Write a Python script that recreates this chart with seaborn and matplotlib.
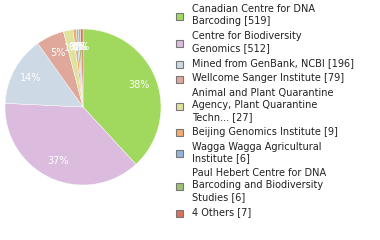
import math
import matplotlib
matplotlib.use("Agg")
import matplotlib.pyplot as plt
import seaborn as sns

sns.set_theme(style="white")
plt.rcParams['font.family'] = ['DejaVu Sans']

labels = [
    "Canadian Centre for DNA\nBarcoding [519]",
    "Centre for Biodiversity\nGenomics [512]",
    "Mined from GenBank, NCBI [196]",
    "Wellcome Sanger Institute [79]",
    "Animal and Plant Quarantine\nAgency, Plant Quarantine\nTechn... [27]",
    "Beijing Genomics Institute [9]",
    "Wagga Wagga Agricultural\nInstitute [6]",
    "Paul Hebert Centre for DNA\nBarcoding and Biodiversity\nStudies [6]",
    "4 Others [7]",
]
values = [519, 512, 196, 79, 27, 9, 6, 6, 7]
colors = ["#a0d95e", "#dcbcde", "#cdd9e4", "#e0a89a", "#dfe39e",
          "#f0aa6e", "#90b5dc", "#9cc272", "#d9715c"]

W, H = 380, 240
fig = plt.figure(figsize=(W / 100, H / 100), dpi=100)

cx, cy, R = 83, 107, 78
ax = fig.add_axes([(cx - R) / W, (H - cy - R) / H, 2 * R / W, 2 * R / H])

def pct(p):
    return f"{int(math.floor(p + 1e-9))}%"

wedges, texts, autotexts = ax.pie(
    values, colors=colors, startangle=90, counterclock=False,
    autopct=pct, pctdistance=0.77,
    wedgeprops=dict(linewidth=0.3, edgecolor="white"),
    textprops=dict(color="white", fontsize=7),
)
ax.set_xlim(-1, 1)
ax.set_ylim(-1, 1)
ax.set_aspect("equal")
ax.axis("off")

# legend
lax = fig.add_axes([0, 0, 1, 1])
lax.set_xlim(0, W)
lax.set_ylim(H, 0)
lax.axis("off")
line_h = 12.2
y = 4.5
for lab, col in zip(labels, colors):
    n = lab.count("\n") + 1
    block = n * line_h
    lax.text(192, y, lab, fontsize=7, va="top", ha="left", color="#222222",
             linespacing=1.25)
    sq_y = y + block / 2
    lax.add_patch(plt.Rectangle((175.5, sq_y - 3.5), 7, 7, facecolor=col,
                                edgecolor="#777777", linewidth=0.8))
    y += block + 2.5

fig.savefig("out.png", dpi=100)
